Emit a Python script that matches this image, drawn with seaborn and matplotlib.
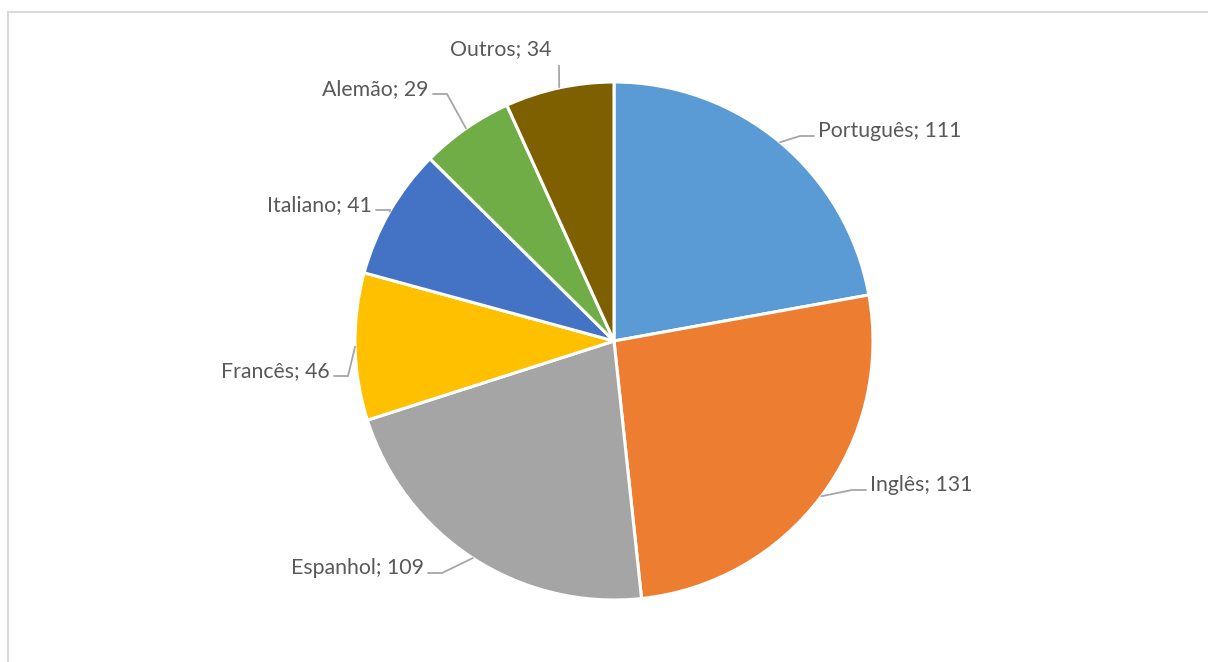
import numpy as np
import matplotlib
matplotlib.use("Agg")
import matplotlib.pyplot as plt
from matplotlib.patches import Rectangle
import seaborn as sns

# Languages and counts
languages = ["Português", "Inglês", "Espanhol", "Francês", "Italiano", "Alemão", "Outros"]
counts = [111, 131, 109, 46, 41, 29, 34]
colors = ["#5B9BD5", "#ED7D31", "#A5A5A5", "#FFC000", "#4472C4", "#70AD47", "#7F6000"]

# Label anchor (pixel offsets from pie centre, y up) and alignment
label_pos = [(204, 210), (256, -144), (-190, -227), (-284, -30), (-242, 136), (-185, 252), (-63, 292)]
label_ha = ["left", "left", "right", "right", "right", "right", "right"]

sns.set_theme(style="white")
plt.rcParams["font.family"] = ["Lato", "DejaVu Sans"]

W, H = 1208, 662
fig = plt.figure(figsize=(W / 100, H / 100), dpi=100)
fig.patch.set_facecolor("white")

# chart-area frame
fig.add_artist(Rectangle((8 / W, -0.1), 2.0, (H - 12) / H + 0.1,
                         transform=fig.transFigure, fill=False,
                         edgecolor="#D9D9D9", linewidth=1.5))

cx, cy = 614, H - 341
R = 259
half = 320
ax = fig.add_axes([(cx - half) / W, (cy - half) / H, 2 * half / W, 2 * half / H])

wedges, _ = ax.pie(counts, colors=colors, startangle=90, counterclock=False,
                   radius=R, wedgeprops=dict(edgecolor="white", linewidth=2.2))
ax.set_xlim(-half, half)
ax.set_ylim(-half, half)
ax.set_aspect("equal")
ax.axis("off")

line_c = "#A6A6A6"
text_c = "#595959"
fs = 15.3
for w, lab, val, (lx, ly), ha in zip(wedges, languages, counts, label_pos, label_ha):
    mid = np.deg2rad((w.theta1 + w.theta2) / 2)
    ex, ey = R * np.cos(mid), R * np.sin(mid)
    sgn = 1 if ha == "left" else -1
    if lab == "Outros":
        # short near-vertical leader below the label
        ax.plot([ex, lx + 8], [ey, ly - 16], color=line_c, lw=1.3, solid_capstyle="butt")
        ax.text(lx, ly, f"{lab}; {val}", ha="right", va="center", fontsize=fs, color=text_c)
        continue
    tx = lx - sgn * 4
    elbow = (tx - sgn * 14, ly - 5)
    ax.plot([ex, elbow[0], tx], [ey, elbow[1], ly - 5], color=line_c, lw=1.3,
            solid_joinstyle="miter")
    ax.text(lx, ly, f"{lab}; {val}", ha=ha, va="center", fontsize=fs, color=text_c)

fig.savefig("out.png", dpi=100, facecolor="white")
